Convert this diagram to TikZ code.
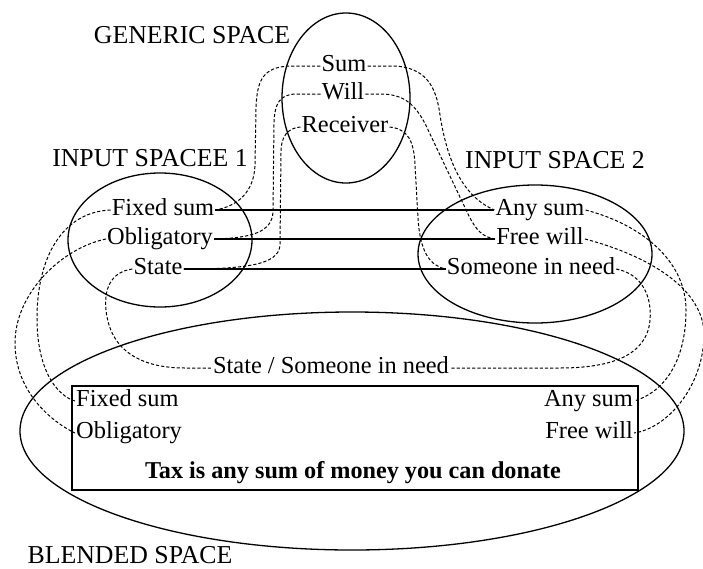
\documentclass[tikz,border=0pt]{standalone}
\usepackage{fontspec}
\setmainfont{Liberation Serif}
\usetikzlibrary{shapes.geometric}
\begin{document}
\begin{tikzpicture}[x=1pt,y=-1pt,
  txt/.style={font=\fontsize{24.4}{27}\selectfont, inner sep=1pt, text height=12pt, text depth=2pt},
  lbl/.style={font=\fontsize{25.8}{28}\selectfont, inner sep=1pt, text height=12pt, text depth=2pt},
  dsh/.style={line width=1pt, dash pattern=on 3.2pt off 2pt},
  ring/.style={draw, ellipse, line width=1.3pt, inner sep=0pt},
  link/.style={line width=1.4pt}]
\useasboundingbox (0,0) rectangle (703,568);
\fill[white] (0,0) rectangle (703,568);

% spaces
\node[ring, minimum width=128pt, minimum height=170pt] (gen) at (346,98) {};
\node[ring, minimum width=184pt, minimum height=134pt] (in1) at (160,240) {};
\node[ring, minimum width=234pt, minimum height=138pt] (in2) at (535,254) {};
\node[ring, minimum width=664pt, minimum height=238pt] (bl) at (352,431) {};
\draw[line width=1.5pt] (72,386) rectangle (638,490);

% labels
\node[lbl] (lgen) at (192,38) {GENERIC SPACE};
\node[lbl] (lin1) at (150,161) {INPUT SPACEE 1};
\node[lbl] (lin2) at (555,163) {INPUT SPACE 2};
\node[lbl] (lbl) at (130,558) {BLENDED SPACE};

% generic
\node[txt] (gSum) at (344,66) {Sum};
\node[txt] (gWill) at (343,94) {Will};
\node[txt] (gRec) at (345,127) {Receiver};
% input 1
\node[txt] (aFix) at (163,210) {Fixed sum};
\node[txt] (aObl) at (160,239) {Obligatory};
\node[txt] (aSta) at (158,269) {State};
% input 2
\node[txt] (bAny) at (540,210) {Any sum};
\node[txt] (bFree) at (540,239) {Free will};
\node[txt] (bSome) at (531,269) {Someone in need};
% blend
\node[txt] (cSS) at (331,368) {State / Someone in need};
\node[txt, anchor=west] (cFix) at (75,401) {Fixed sum};
\node[txt, anchor=west] (cObl) at (75,433) {Obligatory};
\node[txt, anchor=east] (cAny) at (634,401) {Any sum};
\node[txt, anchor=east] (cFree) at (634,433) {Free will};
\node[txt, font=\fontsize{24.2}{27}\selectfont\bfseries] (cTax) at (353,473) {Tax is any sum of money you can donate};

% solid cross-space links
\draw[link] (aFix.east) -- (bAny.west);
\draw[link] (aObl.east) -- (bFree.west);
\draw[link] (aSta.east) -- (bSome.west);

% generic -> input 1
\draw[dsh] (gSum.west) -- (290,66) .. controls (263,67) and (257,80) .. (256,108) -- (255,165) .. controls (254,192) and (238,206) .. (aFix.east);
\draw[dsh] (gWill.west) -- (295,94) .. controls (279,95) and (275,104) .. (274,122) -- (273,212) .. controls (272,232) and (252,238) .. (aObl.east);
\draw[dsh] (gRec.west) .. controls (288,128) and (281,136) .. (281,152) -- (280,245) .. controls (279,265) and (245,269) .. (aSta.east);

% generic -> input 2
\draw[dsh] (gSum.east) -- (395,66) .. controls (425,68) and (436,85) .. (440,115) .. controls (447,160) and (462,196) .. (bAny.west);
\draw[dsh] (gWill.east) -- (383,94) .. controls (407,95) and (418,107) .. (430,134) -- (468,214) .. controls (476,230) and (482,237) .. (bFree.west);
\draw[dsh] (gRec.east) .. controls (408,129) and (414,141) .. (415,165) -- (418,218) .. controls (420,252) and (430,266) .. (bSome.west);

% input 1 -> blend
\draw[dsh] (aFix.west) .. controls (62,212) and (37,258) .. (37,318) .. controls (37,372) and (58,396) .. (cFix.west);
\draw[dsh] (aObl.west) .. controls (62,248) and (15,293) .. (15,343) .. controls (15,392) and (52,422) .. (cObl.west);
\draw[dsh] (aSta.west) .. controls (110,272) and (104,290) .. (106,310) .. controls (110,350) and (140,368) .. (185,368) -- (cSS.west);

% input 2 -> blend
\draw[dsh] (bSome.east) .. controls (643,274) and (652,298) .. (650,320) .. controls (647,356) and (610,368) .. (560,368) -- (cSS.east);
\draw[dsh] (bAny.east) .. controls (640,224) and (686,260) .. (686,310) .. controls (686,360) and (665,392) .. (cAny.east);
\draw[dsh] (bFree.east) .. controls (650,256) and (705,290) .. (704,336) .. controls (703,386) and (668,428) .. (cFree.east);
\end{tikzpicture}
\end{document}
